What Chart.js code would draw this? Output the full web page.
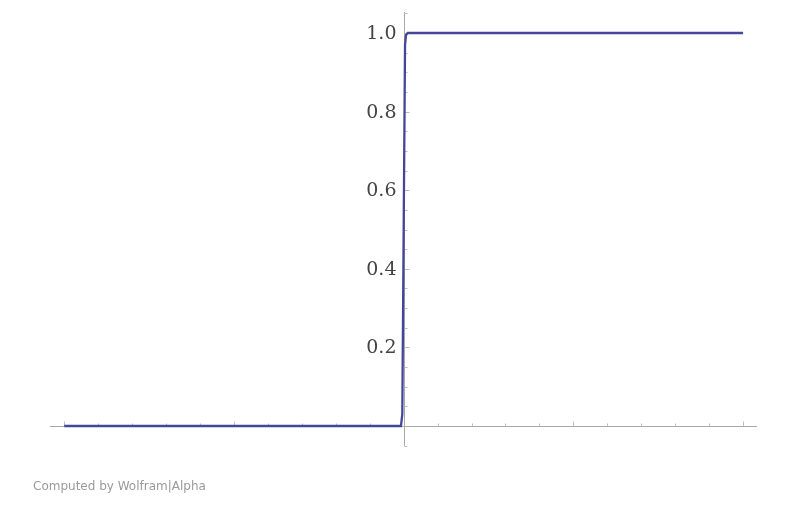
<!DOCTYPE html>
<html>
<head>
<meta charset="utf-8">
<script src="https://cdn.jsdelivr.net/npm/chart.js@4"></script>
<style>
  html, body { margin: 0; padding: 0; background: #fff; }
  #wrap { position: relative; width: 800px; height: 512px; }
  #footer { position: absolute; left: 33px; top: 479px; font: 12px "DejaVu Sans", sans-serif; color: #9a9a9a; white-space: nowrap; }
</style>
</head>
<body>
<div id="wrap">
  <canvas id="c" width="800" height="512"></canvas>
  <div id="footer">Computed by Wolfram|Alpha</div>
</div>
<script>
// Data (steep step at x = 0)
const xValues = [-10, -5, -1, -0.3, -0.08, -0.04, 0, 0.04, 0.07, 0.12, 0.3, 1, 5, 10];
const yValues = [0, 0, 0, 0, 0, 0.03, 0.5, 0.97, 0.995, 1, 1, 1, 1, 1];

// Axis ticks
const xMinorTicks = [-9, -8, -7, -6, -4, -3, -2, -1, 1, 2, 3, 4, 6, 7, 8, 9];
const xMajorTicks = [-10, -5, 5, 10];
const yMajorTicks = [0.2, 0.4, 0.6, 0.8, 1.0];
const yTickLabels = ['0.2', '0.4', '0.6', '0.8', '1.0'];
const yMinorTicks = [0.05, 0.1, 0.15, 0.25, 0.3, 0.35, 0.45, 0.5, 0.55, 0.65, 0.7, 0.75, 0.85, 0.9, 0.95, 1.05, -0.05];

const points = xValues.map((x, i) => ({ x: x, y: yValues[i] }));

const axesPlugin = {
  id: 'wolframAxes',
  beforeDatasetsDraw(chart) {
    const ctx = chart.ctx;
    const xs = chart.scales.x, ys = chart.scales.y;
    const area = chart.chartArea;
    const x0 = Math.round(xs.getPixelForValue(0)) + 0.5;
    const y0 = Math.round(ys.getPixelForValue(0)) + 0.5;
    ctx.save();
    ctx.lineWidth = 1;
    ctx.strokeStyle = '#a8a8a8';
    ctx.beginPath();
    ctx.moveTo(area.left, y0); ctx.lineTo(area.right, y0);
    ctx.moveTo(x0, area.top); ctx.lineTo(x0, area.bottom);
    ctx.stroke();
    ctx.strokeStyle = '#bcbcbc';
    ctx.beginPath();
    xMinorTicks.forEach(v => {
      const p = Math.round(xs.getPixelForValue(v)) + 0.5;
      ctx.moveTo(p, y0); ctx.lineTo(p, y0 - 3);
    });
    xMajorTicks.forEach(v => {
      const p = Math.round(xs.getPixelForValue(v)) + 0.5;
      ctx.moveTo(p, y0); ctx.lineTo(p, y0 - 5);
    });
    yMinorTicks.forEach(v => {
      const p = Math.round(ys.getPixelForValue(v)) + 0.5;
      ctx.moveTo(x0, p); ctx.lineTo(x0 + 3, p);
    });
    yMajorTicks.forEach(v => {
      const p = Math.round(ys.getPixelForValue(v)) + 0.5;
      ctx.moveTo(x0, p); ctx.lineTo(x0 + 5, p);
    });
    ctx.stroke();
    ctx.fillStyle = '#444444';
    ctx.font = '19px "DejaVu Serif", serif';
    ctx.textAlign = 'right';
    ctx.textBaseline = 'middle';
    yMajorTicks.forEach((v, i) => {
      ctx.fillText(yTickLabels[i], x0 - 8, ys.getPixelForValue(v) + 1);
    });
    ctx.restore();
  }
};

new Chart(document.getElementById('c'), {
  type: 'line',
  data: {
    datasets: [{
      data: points,
      borderColor: '#45459b',
      borderWidth: 2.3,
      pointRadius: 0,
      tension: 0,
      fill: false
    }]
  },
  options: {
    responsive: false,
    animation: false,
    layout: { padding: { left: 50, right: 43, top: 12, bottom: 66 } },
    plugins: { legend: { display: false }, tooltip: { enabled: false } },
    scales: {
      x: { type: 'linear', min: -10.42, max: 10.41, display: false, offset: false },
      y: { type: 'linear', min: -0.0509, max: 1.0535, display: false }
    }
  },
  plugins: [axesPlugin]
});
</script>
</body>
</html>
